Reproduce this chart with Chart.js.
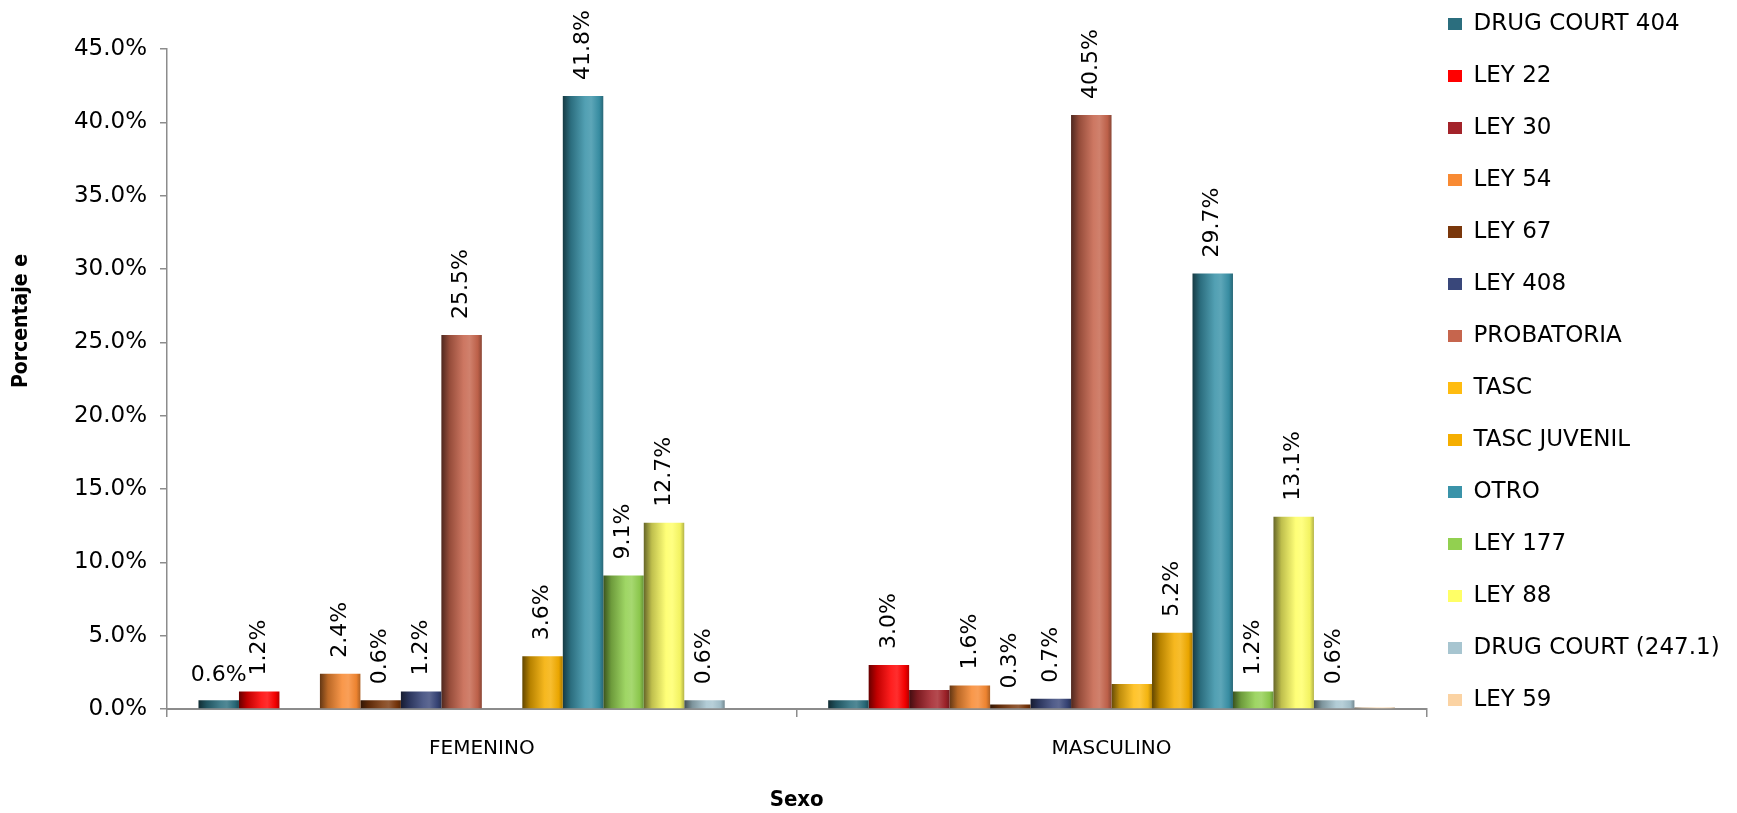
<!DOCTYPE html>
<html><head><meta charset="utf-8">
<script src="https://cdn.jsdelivr.net/npm/chart.js@4.4.1/dist/chart.umd.min.js"></script>
<style>html,body{margin:0;padding:0;background:#fff;}#wrap{width:1737px;height:813px;position:relative;}</style>
</head><body><div id="wrap"><canvas id="c" width="1737" height="813"></canvas></div>
<script>
// ---------- DATA ----------
const categories = ['FEMENINO', 'MASCULINO'];
const seriesNames = ['DRUG COURT 404','LEY 22','LEY 30','LEY 54','LEY 67','LEY 408','PROBATORIA','TASC','TASC JUVENIL','OTRO','LEY 177','LEY 88','DRUG COURT (247.1)','LEY 59'];
const drugCourt404  = [0.6, 0.6];
const ley22         = [1.2, 3.0];
const ley30         = [null, 1.3];
const ley54         = [2.4, 1.6];
const ley67         = [0.6, 0.3];
const ley408        = [1.2, 0.7];
const probatoria    = [25.5, 40.5];
const tasc          = [null, 1.7];
const tascJuvenil   = [3.6, 5.2];
const otro          = [41.8, 29.7];
const ley177        = [9.1, 1.2];
const ley88         = [12.7, 13.1];
const drugCourt2471 = [0.6, 0.6];
const ley59         = [null, 0.1];
const seriesValues = [drugCourt404, ley22, ley30, ley54, ley67, ley408, probatoria, tasc, tascJuvenil, otro, ley177, ley88, drugCourt2471, ley59];
const yTicks = [0, 5, 10, 15, 20, 25, 30, 35, 40, 45];
// labels not shown in the original: [seriesIndex, categoryIndex]
const hiddenLabels = [[0,1],[2,1],[7,1],[13,1]];
// labels drawn horizontally
const flatLabels = [[0,0]];

// ---------- STYLE ----------
const seriesColors = ['#2B6E7E','#FF0000','#A3232A','#F88A33','#7A370B','#39477A','#C6654D','#FFBC10','#F5AE00','#3A93A9','#92D050','#FFFF66','#A7C5D0','#FBD3A3'];
const FONT = '"DejaVu Sans", sans-serif';

function mix(hex, amt) {
  const n = parseInt(hex.slice(1), 16);
  let r = (n >> 16) & 255, g = (n >> 8) & 255, b = n & 255;
  const t = amt < 0 ? 0 : 255, p = Math.abs(amt);
  r = Math.round(r + (t - r) * p); g = Math.round(g + (t - g) * p); b = Math.round(b + (t - b) * p);
  return `rgb(${r},${g},${b})`;
}

const shadePlugin = {
  id: 'shade',
  beforeDatasetsDraw(chart) {
    const ctx = chart.ctx;
    chart.data.datasets.forEach((ds, i) => {
      const meta = chart.getDatasetMeta(i);
      const base = seriesColors[i];
      meta.data.forEach(el => {
        if (!el || !isFinite(el.x) || !isFinite(el.width)) return;
        const x0 = el.x - el.width / 2, x1 = el.x + el.width / 2;
        const g = ctx.createLinearGradient(x0, 0, x1, 0);
        g.addColorStop(0, mix(base, -0.6));
        g.addColorStop(0.2, mix(base, -0.25));
        g.addColorStop(0.55, mix(base, 0.12));
        g.addColorStop(0.7, mix(base, 0.18));
        g.addColorStop(0.9, mix(base, -0.05));
        g.addColorStop(1, mix(base, -0.3));
        el.options.backgroundColor = g;
      });
    });
  }
};

const isIn = (list, i, j) => list.some(p => p[0] === i && p[1] === j);

const labelPlugin = {
  id: 'vlabels',
  afterDatasetsDraw(chart) {
    const ctx = chart.ctx;
    ctx.save();
    ctx.fillStyle = '#000';
    ctx.font = '22px ' + FONT;
    chart.data.datasets.forEach((ds, i) => {
      const meta = chart.getDatasetMeta(i);
      meta.data.forEach((el, j) => {
        const v = ds.data[j];
        if (v === null || v === undefined || isIn(hiddenLabels, i, j)) return;
        const txt = v.toFixed(1) + '%';
        if (isIn(flatLabels, i, j)) {
          ctx.textAlign = 'center'; ctx.textBaseline = 'bottom';
          ctx.fillText(txt, el.x, el.y - 14);
        } else {
          ctx.save();
          ctx.translate(el.x, el.y - 16);
          ctx.rotate(-Math.PI / 2);
          ctx.textAlign = 'left'; ctx.textBaseline = 'middle';
          ctx.fillText(txt, 0, 0);
          ctx.restore();
        }
      });
    });
    ctx.restore();
  }
};

const yTitlePlugin = {
  id: 'ytitle',
  afterDraw(chart) {
    const ctx = chart.ctx;
    ctx.save();
    ctx.font = 'bold 21px "DejaVu Sans Condensed", "DejaVu Sans", sans-serif';
    ctx.fillStyle = '#000';
    ctx.translate(22, 321);
    ctx.rotate(-Math.PI / 2);
    ctx.textAlign = 'center'; ctx.textBaseline = 'middle';
    ctx.fillText('Porcentaje e', 0, 0);
    ctx.restore();
  }
};

const legendShift = {
  id: 'legendShift',
  afterLayout(chart) {
    const l = chart.legend;
    if (!l) return;
    const pad = l.options.labels.padding;
    const dx = 1419 - l.left;
    const dy = (24 - 11.5 - pad) - l.top;
    l.left += dx; l.right += dx; l.top += dy; l.bottom += dy;
  }
};

new Chart(document.getElementById('c'), {
  type: 'bar',
  data: {
    labels: categories,
    datasets: seriesNames.map((name, i) => ({
      label: name,
      data: seriesValues[i],
      backgroundColor: (c) => seriesColors[c.datasetIndex],
      borderWidth: 0,
      barPercentage: 1.0,
      categoryPercentage: 0.9
    }))
  },
  options: {
    responsive: false,
    devicePixelRatio: 1,
    animation: false,
    layout: { padding: { top: 49, right: 0, bottom: 0, left: 0 } },
    plugins: {
      legend: {
        position: 'right',
        align: 'start',
        labels: {
          font: { family: FONT, size: 23 },
          color: '#000',
          boxWidth: 14,
          boxHeight: 12,
          padding: 29
        }
      },
      tooltip: { enabled: false }
    },
    scales: {
      x: {
        grid: { display: true, drawOnChartArea: false, drawTicks: true, tickLength: 8, color: '#8c8c8c', lineWidth: 1.5, offset: true },
        border: { display: true, color: '#8c8c8c', width: 2 },
        ticks: { font: { family: FONT, size: 20 }, color: '#000', padding: 20 },
        title: { display: true, text: 'Sexo', font: { family: '"DejaVu Sans Condensed", "DejaVu Sans", sans-serif', size: 22, weight: 'bold' }, color: '#000', padding: { top: 0, bottom: 0 } },
        afterFit(scale) { scale.height = 104; }
      },
      y: {
        min: 0, max: 45,
        afterBuildTicks(scale) { scale.ticks = yTicks.map(v => ({ value: v })); },
        grid: { display: true, drawOnChartArea: false, drawTicks: true, tickLength: 7, color: '#8c8c8c', lineWidth: 1.5 },
        border: { display: true, color: '#8c8c8c', width: 1.5 },
        ticks: { font: { family: FONT, size: 23 }, color: '#000', padding: 13, callback: (v) => Number(v).toFixed(1) + '%' },
        afterFit(scale) { scale.width = 167; }
      }
    }
  },
  plugins: [shadePlugin, labelPlugin, yTitlePlugin, legendShift]
});
</script>
</body></html>
